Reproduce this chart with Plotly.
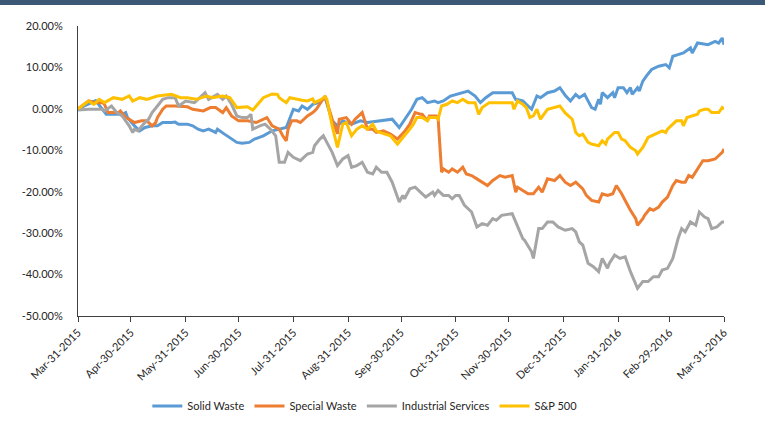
import pandas as pd
import plotly.graph_objects as go

# Days since 31-Mar-2015 and cumulative returns (%) for each series
start_date = "2015-03-31"

solid_days = [0,10,16,25,27,28,32,35,38,42,45,48,53,55,57,62,65,68,71,74,78,79,83,87,90,93,97,100,105,110,
              114,118,122,125,127,130,133,136,140,144,147,150,155,160,164,171,178,182,185,189,192,195,198,202,204,207,211,218,221,225,
              228,231,235,242,246,248,252,254,257,260,262,266,270,273,276,279,282,284,287,291,293,295,296,297,300,303,304,306,309,311,
              313,314,317,318,320,322,325,329,333,335,337,340,343,347,348,351,357,361,363,365,366]
solid_vals = [0.0,2.0,-1.3,-1.3,-0.9,-2.1,-4.1,-5.3,-4.5,-4.1,-4.1,-3.3,-3.3,-3.2,-3.7,-3.7,-4.1,-4.9,-5.3,-4.9,
              -5.7,-4.9,-6.1,-7.3,-8.1,-8.3,-8.1,-7.3,-6.5,-5.3,-4.9,-4.5,-0.1,-0.5,0.7,-0.1,1.1,1.5,2.7,-2.9,
              -4.1,-2.9,-3.7,-2.9,-3.3,-2.9,-2.5,-4.5,-2.5,-0.1,2.3,2.7,1.5,1.9,1.5,1.9,3.1,3.9,4.3,3.1,
              1.5,2.7,3.9,3.9,3.9,2.3,1.9,1.1,-0.1,3.1,2.7,3.9,4.3,5.1,3.3,1.9,3.5,2.7,3.5,0.3,
              -0.1,2.3,1.1,3.9,2.7,3.9,2.7,5.1,5.1,3.9,5.1,3.5,5.1,4.3,6.7,7.9,9.5,10.3,10.7,9.9,
              12.7,13.1,13.5,14.7,13.5,15.9,15.5,16.3,15.9,17.1,15.5]

special_days = [0,6,10,14,15,17,23,24,27,29,32,36,39,42,44,45,48,50,55,59,62,65,71,75,78,82,84,87,91,93,
                96,101,107,110,114,116,118,119,121,124,126,130,133,135,139,140,144,147,148,152,155,157,161,164,167,169,173,177,181,185,
                188,191,194,195,198,199,203,204,206,207,210,212,215,218,220,223,226,229,232,235,239,242,246,248,249,252,255,258,261,263,
                266,270,273,276,279,282,286,288,291,295,297,300,303,305,308,311,313,316,317,320,321,324,326,329,331,334,337,339,342,344,
                346,348,351,354,357,361,365,366]
special_vals = [0.0,1.9,1.5,1.5,1.1,-0.9,-0.9,-0.5,-2.1,-2.5,-3.3,-2.9,-2.9,-4.1,-3.3,-2.1,-0.1,0.7,0.7,0.5,
                0.5,-0.1,-0.5,0.3,0.3,-0.9,0.3,-1.7,-2.9,-2.9,-2.9,-3.3,-2.1,-4.1,-4.9,-6.5,-7.7,-4.9,-2.9,-2.9,
                -3.3,-1.7,-0.9,-0.1,2.3,3.1,-2.5,-6.0,-2.5,-2.1,-3.7,-2.5,-0.9,-4.9,-4.9,-5.7,-5.3,-6.1,-7.3,-5.5,
                -3.7,-0.9,-1.3,-1.3,-2.9,-1.7,-1.7,-2.1,-15.3,-14.5,-15.3,-14.5,-15.3,-14.1,-15.7,-16.1,-16.9,-17.7,-18.5,-17.3,
                -16.1,-16.5,-16.1,-20.1,-18.9,-19.7,-20.5,-20.5,-18.9,-20.1,-16.9,-17.3,-16.1,-17.7,-18.5,-17.7,-19.3,-20.9,-22.1,-22.5,
                -20.5,-20.9,-20.5,-18.5,-20.5,-22.9,-24.5,-26.5,-28.1,-26.5,-25.7,-24.1,-24.5,-23.7,-22.5,-21.3,-18.5,-17.3,-17.7,-17.7,
                -16.1,-16.5,-14.5,-12.5,-12.5,-12.1,-10.5,-9.7]

industrial_days = [0,6,14,15,19,22,25,28,29,31,32,34,37,40,42,45,48,51,55,57,61,66,72,74,79,82,84,87,90,93,
                   96,98,99,103,106,109,112,114,117,119,122,126,130,133,134,137,139,141,144,147,150,153,155,158,161,164,167,169,172,175,
                   178,182,184,185,188,191,194,197,201,202,204,207,210,212,214,216,219,223,226,229,232,235,237,240,246,249,252,253,257,258,
                   261,263,266,269,272,276,280,282,284,286,289,292,295,297,300,301,304,307,310,313,317,320,323,326,329,331,334,337,340,342,
                   344,347,350,352,355,357,359,362,365,366]
industrial_vals = [-0.3,-0.1,-0.1,-0.5,0.7,-0.9,-1.7,-3.3,-4.1,-5.7,-4.9,-5.3,-3.7,-2.5,-0.9,0.7,2.3,2.7,2.7,0.7,
                   1.9,1.5,3.9,2.3,3.5,2.3,3.1,1.1,-1.7,-2.1,-2.1,-1.3,-4.9,-4.1,-3.7,-4.9,-6.5,-12.9,-12.9,-10.5,
                   -11.7,-12.5,-10.9,-10.5,-8.9,-7.3,-6.5,-8.1,-10.5,-13.7,-12.1,-11.3,-14.1,-13.7,-12.9,-15.3,-15.7,-14.1,-15.3,-15.3,
                   -17.7,-22.5,-20.9,-21.7,-19.3,-18.9,-20.1,-21.3,-20.1,-20.9,-19.7,-20.9,-20.9,-21.7,-20.9,-20.9,-23.3,-24.9,-28.5,-27.7,
                   -28.1,-26.5,-26.9,-25.7,-25.3,-28.1,-31.3,-31.7,-34.5,-36.1,-28.9,-28.9,-27.3,-27.3,-28.5,-29.3,-28.9,-29.7,-32.1,-32.9,
                   -37.3,-38.1,-39.3,-36.1,-38.5,-37.3,-35.3,-36.1,-35.7,-39.3,-43.3,-41.7,-41.7,-40.5,-40.5,-38.9,-38.5,-36.1,-31.3,-28.9,
                   -29.7,-27.3,-28.1,-24.9,-26.1,-26.5,-28.9,-28.5,-27.3,-27.3]

sp500_days = [0,3,6,9,12,15,20,25,29,31,35,39,45,53,58,62,67,73,76,82,86,90,96,99,105,110,113,114,118,120,
              123,127,130,133,134,137,140,141,144,147,150,152,155,158,161,164,167,169,171,177,181,185,188,190,192,195,198,199,203,204,
              206,209,212,215,218,221,225,227,229,233,246,247,249,252,254,256,258,260,262,266,270,273,276,280,282,284,286,289,291,295,
              297,299,300,304,306,308,310,313,316,317,320,321,323,327,331,333,334,337,339,342,343,345,348,351,352,355,357,359,363,365,366]
sp500_vals = [0.0,1.0,1.9,1.1,2.3,1.5,2.7,2.3,3.1,1.9,2.7,2.3,3.1,3.5,2.7,2.7,2.3,3.1,2.7,3.1,
              2.7,0.3,0.5,-0.3,2.7,3.6,3.5,2.7,1.5,2.7,2.4,2.1,1.9,2.4,1.5,2.1,2.9,2.3,-4.1,-9.3,
              -3.7,-3.3,-6.5,-4.9,-4.1,-4.9,-3.7,-5.3,-5.7,-6.5,-8.5,-6.5,-4.9,-3.7,-2.1,-2.1,-2.9,-2.1,-2.1,-2.5,
              0.7,1.1,1.9,1.5,2.3,1.5,1.5,-1.3,0.3,1.5,1.5,-0.1,1.9,1.1,0.3,-2.1,-1.7,-0.1,-2.5,-0.1,
              0.3,0.7,-1.0,-2.5,-5.7,-6.5,-6.1,-8.1,-8.5,-8.9,-7.7,-8.5,-7.3,-5.7,-5.7,-7.3,-7.7,-9.3,-10.1,-10.9,
              -9.3,-8.5,-6.9,-6.1,-5.3,-5.7,-4.9,-3.7,-2.9,-2.9,-4.1,-2.1,-1.7,-1.3,-0.5,-0.1,-0.1,-0.9,-0.9,0.3,-0.1]

series_names = ["Solid Waste", "Special Waste", "Industrial Services", "S&P 500"]
series_colors = ["#5B9BD5", "#ED7D31", "#A5A5A5", "#FFC000"]

x_tick_dates = ["2015-03-31", "2015-04-30", "2015-05-31", "2015-06-30", "2015-07-31", "2015-08-31",
                "2015-09-30", "2015-10-31", "2015-11-30", "2015-12-31", "2016-01-31", "2016-02-29", "2016-03-31"]
x_tick_labels = ["Mar-31-2015", "Apr-30-2015", "May-31-2015", "Jun-30-2015", "Jul-31-2015", "Aug-31-2015",
                 "Sep-30-2015", "Oct-31-2015", "Nov-30-2015", "Dec-31-2015", "Jan-31-2016", "Feb-29-2016", "Mar-31-2016"]
y_tick_vals = [20, 10, 0, -10, -20, -30, -40, -50]
y_tick_labels = ["20.00%", "10.00%", "0.00%", "-10.00%", "-20.00%", "-30.00%", "-40.00%", "-50.00%"]

base = pd.Timestamp(start_date)


def to_dates(days):
    return [base + pd.Timedelta(days=d) for d in days]


fig = go.Figure()
all_days = [solid_days, special_days, industrial_days, sp500_days]
all_vals = [solid_vals, special_vals, industrial_vals, sp500_vals]
for name, color, d, v in zip(series_names, series_colors, all_days, all_vals):
    fig.add_trace(go.Scatter(x=to_dates(d), y=v, mode="lines", name=name,
                             line=dict(color=color, width=3)))

font_family = "Lato, 'Open Sans', sans-serif"
axis_color = "#404040"

fig.update_layout(
    width=765, height=433,
    margin=dict(l=78, r=41, t=26, b=115),
    paper_bgcolor="white", plot_bgcolor="white",
    font=dict(family=font_family, size=11, color="#262626"),
    showlegend=True,
    legend=dict(orientation="h", x=0.444, xanchor="center", y=-0.31, yanchor="middle",
                font=dict(family=font_family, size=11, color="#262626"),
                itemwidth=30, tracegroupgap=0),
    xaxis=dict(type="date", range=[x_tick_dates[0], x_tick_dates[-1]],
               tickvals=x_tick_dates, ticktext=x_tick_labels, tickangle=-45,
               showline=True, linecolor=axis_color, linewidth=1,
               ticks="outside", ticklen=5, tickcolor=axis_color, tickwidth=1,
               showgrid=False, zeroline=False,
               tickfont=dict(family=font_family, size=11, color="#262626")),
    yaxis=dict(range=[-50, 20], tickvals=y_tick_vals, ticktext=y_tick_labels,
               showline=True, linecolor=axis_color, linewidth=1,
               ticks="", showgrid=False, zeroline=False, ticklabelstandoff=12,
               tickfont=dict(family=font_family, size=11, color="#262626")),
    shapes=[dict(type="rect", xref="paper", yref="paper", x0=-0.2, x1=1.2,
                 ysizemode="pixel", yanchor=1, y0=21, y1=30,
                 fillcolor="#3B5876", line=dict(width=0), layer="above")],
)

fig.write_html("out.html")
